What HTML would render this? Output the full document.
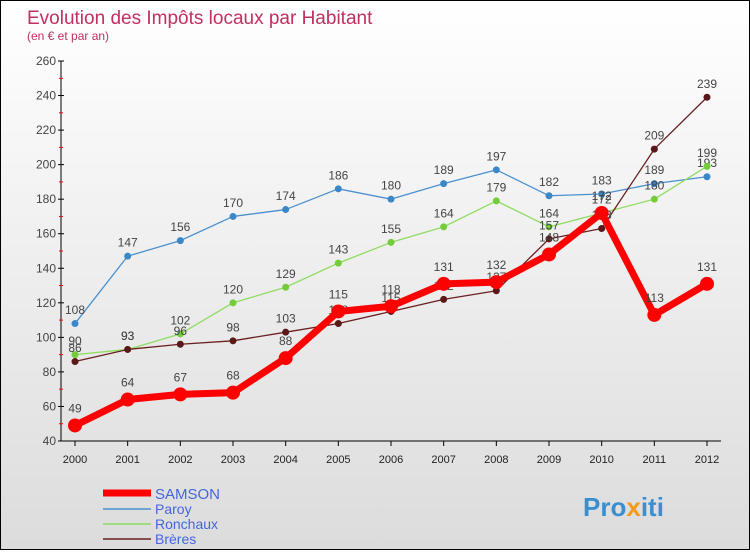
<!DOCTYPE html>
<html><head><meta charset="utf-8"><style>
body{margin:0;width:750px;height:550px;overflow:hidden;font-family:"Liberation Sans",sans-serif}
#wrap{position:relative;width:748px;height:548px;border:1px solid #000;background:linear-gradient(#fff,#dcdcdc)}
</style></head><body>
<div id="wrap">
<svg id="svg" width="748" height="548" xmlns="http://www.w3.org/2000/svg" font-family="Liberation Sans, sans-serif">
<text x="26" y="23" font-size="19" fill="#c0305e">Evolution des Impôts locaux par Habitant</text>
<text x="26" y="39" font-size="12" fill="#c0305e">(en € et par an)</text>
<g id="axes"></g><g id="series"></g>
<g>
<line x1="102" y1="492" x2="150" y2="492" stroke="#f00" stroke-width="7"/>
<text x="154" y="498" font-size="15" fill="#4466dd">SAMSON</text>
<line x1="102" y1="508" x2="150" y2="508" stroke="#4a90d0" stroke-width="1.5"/>
<text x="154" y="513" font-size="14" fill="#4466dd">Paroy</text>
<line x1="102" y1="523" x2="150" y2="523" stroke="#8fdc60" stroke-width="1.5"/>
<text x="154" y="528" font-size="14" fill="#4466dd">Ronchaux</text>
<line x1="102" y1="538" x2="150" y2="538" stroke="#6b1f1f" stroke-width="1.5"/>
<text x="154" y="543" font-size="14" fill="#4466dd">Brères</text>
</g>
<text x="582" y="515" font-size="26" font-weight="bold" fill="#3a8fd0">Pro<tspan fill="#f39a1b">x</tspan>iti</text>
</svg></div>
<script>
const years=[2000,2001,2002,2003,2004,2005,2006,2007,2008,2009,2010,2011,2012];
const yTicks=[40,60,80,100,120,140,160,180,200,220,240,260];
const samson=[49,64,67,68,88,115,118,131,132,148,172,113,131];
const paroy=[108,147,156,170,174,186,180,189,197,182,183,189,193];
const ronchaux=[90,93,102,120,129,143,155,164,179,164,172,180,199];
const breres=[86,93,96,98,103,108,115,122,127,157,163,209,239];
const NS="http://www.w3.org/2000/svg";
const X=i=>74+i*(632/12), Y=v=>440-(v-40)*(380/220);
function mk(t,a,p){const e=document.createElementNS(NS,t);for(const k in a)e.setAttribute(k,a[k]);p.appendChild(e);return e;}
const ax=document.getElementById('axes'),sg=document.getElementById('series');
const yl=mk('line',{x1:60,y1:60,x2:60,y2:440,stroke:'#000'},ax);


const xl=mk('line',{x1:60,y1:440,x2:720,y2:440,stroke:'#000'},ax);


yTicks.forEach(v=>{
 mk('line',{x1:57,y1:Y(v),x2:63,y2:Y(v),stroke:'#000'},ax);
 if(v<260)mk('line',{x1:58,y1:Y(v+10),x2:62,y2:Y(v+10),stroke:'#f00'},ax);
 const t=mk('text',{x:55,y:Y(v)+4,'font-size':12,fill:'#444','text-anchor':'end'},ax);t.textContent=v;
 
 
});
years.forEach((y,i)=>{
 mk('line',{x1:X(i),y1:440,x2:X(i),y2:445,stroke:'#000'},ax);
 const t=mk('text',{x:X(i),y:462,'font-size':11,fill:'#222','text-anchor':'middle'},ax);t.textContent=y;
 
 
});
function series(d,color,w,r,name,dot){
 const g=mk('g',{},sg);
 
 
 mk('polyline',{points:d.map((v,i)=>X(i)+','+Y(v)).join(' '),fill:'none',stroke:color,'stroke-width':w,'stroke-linejoin':'round'},g);
 d.forEach((v,i)=>{
  const c=mk('circle',{cx:X(i),cy:Y(v),r:r,fill:dot},g);
  
  
  const t=mk('text',{x:X(i),y:Y(v)-r-6,'font-size':12,fill:'#444','text-anchor':'middle'},g);t.textContent=v;
  
  
 });
}
series(paroy,'#4a90d0',1.3,3.5,'paroy','#3a88c8');
series(ronchaux,'#8fdc60',1.3,3.5,'ronchaux','#74cc3a');
series(breres,'#6b1f1f',1.3,3.5,'breres','#5a1818');
series(samson,'#f00',7,7,'samson','#f00');
</script>
</body></html>
